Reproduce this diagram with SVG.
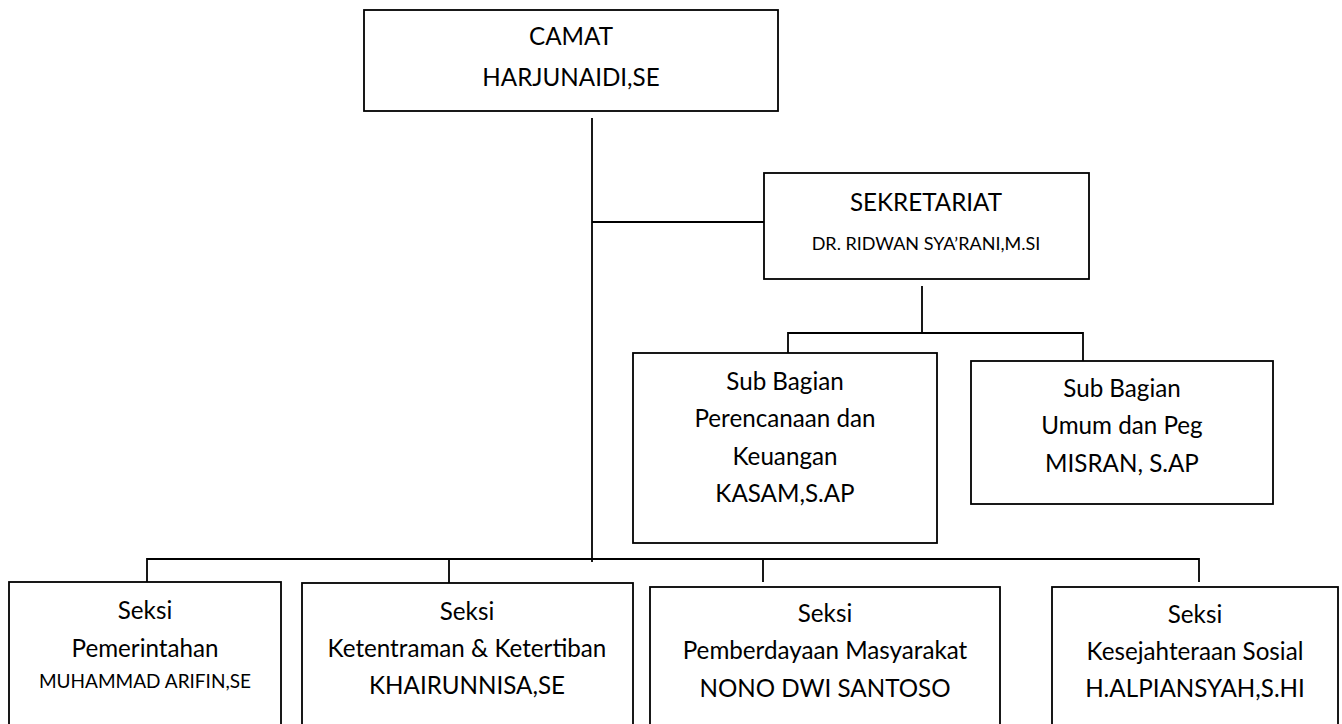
<svg xmlns="http://www.w3.org/2000/svg" width="1342" height="724" viewBox="0 0 1342 724">
<style>
.box{fill:#fff;stroke:#000;stroke-width:1.8}
.ln{fill:none;stroke:#000;stroke-width:1.8}
text{font-family:Lato,"Open Sans",sans-serif;font-size:24.2px;fill:#000;text-anchor:middle}
.sm{font-size:18px}
.sm2{font-size:19px}
</style>
<rect width="1342" height="724" fill="#fff"/>
<g id="connectors">
<path class="ln" d="M592 118V562"/>
<path class="ln" d="M592 222H764"/>
<path class="ln" d="M922 286V333M788 353V333H1083V361"/>
<path class="ln" d="M147 582V559H1199V582M449 559V583M763 559V582"/>
</g>
<g id="camat">
<rect class="box" x="364" y="10" width="414" height="101"/>
<text x="571" y="45">CAMAT</text>
<text x="571" y="86">HARJUNAIDI,SE</text>
</g>
<g id="sekretariat">
<rect class="box" x="764" y="173" width="325" height="106"/>
<text x="926" y="211">SEKRETARIAT</text>
<text class="sm" x="926" y="250">DR. RIDWAN SYA’RANI,M.SI</text>
</g>
<g id="subbag-perencanaan">
<rect class="box" x="633" y="353" width="304" height="190"/>
<text x="785" y="390">Sub Bagian</text>
<text x="785" y="427">Perencanaan dan</text>
<text x="785" y="465">Keuangan</text>
<text x="785" y="502">KASAM,S.AP</text>
</g>
<g id="subbag-umum">
<rect class="box" x="971" y="361" width="302" height="143"/>
<text x="1122" y="397">Sub Bagian</text>
<text x="1122" y="434">Umum dan Peg</text>
<text x="1122" y="472">MISRAN, S.AP</text>
</g>
<g id="seksi-pemerintahan">
<rect class="box" x="9" y="582" width="272" height="160"/>
<text x="145" y="619">Seksi</text>
<text x="145" y="657">Pemerintahan</text>
<text class="sm2" x="145" y="688">MUHAMMAD ARIFIN,SE</text>
</g>
<g id="seksi-ketentraman">
<rect class="box" x="302" y="583" width="331" height="160"/>
<text x="467" y="620">Seksi</text>
<text x="467" y="657">Ketentraman &amp; Ketertiban</text>
<text x="467" y="694">KHAIRUNNISA,SE</text>
</g>
<g id="seksi-pemberdayaan">
<rect class="box" x="650" y="587" width="350" height="160"/>
<text x="825" y="622">Seksi</text>
<text x="825" y="659">Pemberdayaan Masyarakat</text>
<text x="825" y="697">NONO DWI SANTOSO</text>
</g>
<g id="seksi-kesejahteraan">
<rect class="box" x="1052" y="587" width="286" height="160"/>
<text x="1195" y="623">Seksi</text>
<text x="1195" y="660">Kesejahteraan Sosial</text>
<text x="1195" y="697">H.ALPIANSYAH,S.HI</text>
</g>
</svg>
